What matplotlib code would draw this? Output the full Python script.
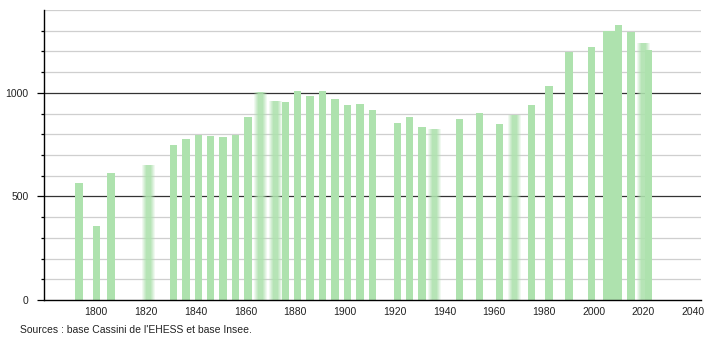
import matplotlib.pyplot as plt
import numpy as np

plt.rcParams['font.family'] = ['Liberation Sans', 'DejaVu Sans']

# census years and population
years = [1793, 1800, 1806, 1821, 1831, 1836, 1841, 1846, 1851, 1856,
         1861, 1866, 1872, 1876, 1881, 1886, 1891, 1896, 1901, 1906,
         1911, 1921, 1926, 1931, 1936, 1946, 1954, 1962, 1968, 1975,
         1982, 1990, 1999, 2005, 2007, 2010, 2015, 2020, 2022]
pop = [565, 358, 614, 650, 747, 779, 795, 790, 785, 797,
       882, 1003, 960, 955, 1011, 984, 1011, 968, 940, 945,
       919, 855, 884, 837, 827, 876, 905, 851, 895, 939,
       1035, 1198, 1222, 1298, 1298, 1329, 1293, 1241, 1209]
# bars drawn with soft edges in the original
soft = [1821, 1866, 1872, 1936, 1968, 2020]
xticks = list(range(1800, 2041, 20))

green = '#aee2ae'
bw = 3.0

fig = plt.figure(figsize=(7.1, 3.4), dpi=100)
ax = fig.add_axes([0.062, 0.1176, 0.925, 0.853])

# grid
for v in range(100, 1401, 100):
    if v % 500 == 0:
        ax.axhline(v, color='#333333', lw=0.9, zorder=1)
    else:
        ax.axhline(v, color='#cfcfcf', lw=0.9, zorder=1)

for y, p in zip(years, pop):
    if y in soft:
        for f, a in zip([1.7, 1.45, 1.2, 0.95, 0.7], [0.18, 0.22, 0.3, 0.4, 0.6]):
            ax.bar(y, p, width=bw * f, color=green, alpha=a, lw=0, zorder=2)
    else:
        ax.bar(y, p, width=bw, color=green, lw=0, zorder=2)

ax.set_xlim(1779, 2043)
ax.set_ylim(0, 1400)

ax.spines['top'].set_visible(False)
ax.spines['right'].set_visible(False)
ax.spines['left'].set_linewidth(1.0)
ax.spines['bottom'].set_linewidth(1.0)

ax.set_yticks([0, 500, 1000])
ax.set_yticks(range(100, 1400, 100), minor=True)
ax.tick_params(axis='y', which='major', length=5, width=0.9, labelsize=7.5,
               labelcolor='#222222', pad=6)
ax.tick_params(axis='y', which='minor', length=2.5, width=0.9)
ax.set_xticks(xticks)
ax.tick_params(axis='x', length=0, labelsize=7.5, labelcolor='#222222', pad=5)

fig.text(0.028, 0.022, "Sources : base Cassini de l'EHESS et base Insee.",
         fontsize=7.5, color='#222222')

fig.savefig('out.png', dpi=100)
